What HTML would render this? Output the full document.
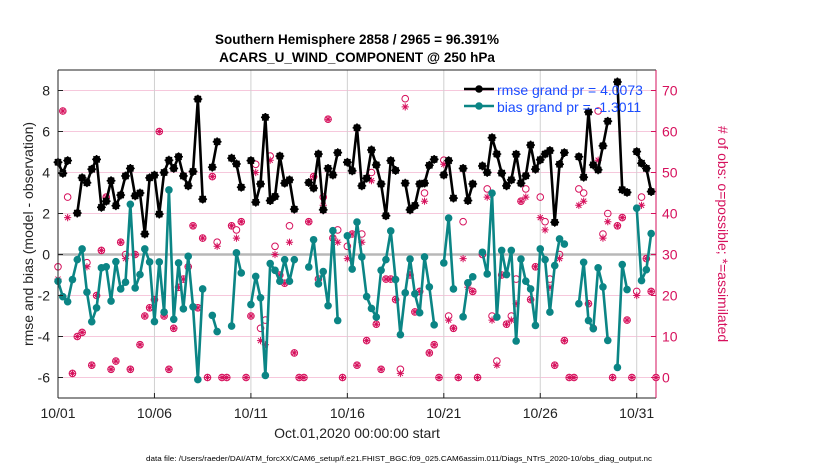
<!DOCTYPE html>
<html><head><meta charset="utf-8"><style>
html,body{margin:0;padding:0;background:#fff;}
svg{display:block;font-family:"Liberation Sans",sans-serif;}
</style></head><body>
<svg id="chart" width="830" height="470" viewBox="0 0 830 470"></svg>
<script>
const dayTicks = [0,5,10,15,20,25,30];
const dayTickLabels = ['10/01','10/06','10/11','10/16','10/21','10/26','10/31'];
const leftTicks = [-6,-4,-2,0,2,4,6,8];
const rightTicks = [0,10,20,30,40,50,60,70];
const rmse = [4.5,3.96,4.58,null,2.02,3.74,3.5,4.16,4.64,2.3,2.6,3.6,2.38,2.9,3.83,4.2,2.86,3.0,1.0,3.74,3.87,1.97,4.0,4.6,4.2,4.77,3.83,3.35,4.05,7.58,2.7,null,4.26,5.5,null,null,4.7,4.42,3.28,null,4.58,2.55,3.44,6.69,2.63,2.83,4.8,3.48,3.64,2.21,null,null,3.51,3.24,4.9,2.18,4.2,3.88,4.97,null,4.5,4.08,6.18,3.35,3.72,5.1,4.37,3.44,1.89,4.58,4.1,null,3.48,2.18,2.39,3.44,3.48,4.35,4.64,null,3.88,4.58,2.75,null,4.2,2.63,3.44,null,4.32,4.0,5.7,4.9,3.97,3.35,3.64,4.89,3.48,3.84,5.34,4.16,4.62,4.9,5.07,1.57,4.4,4.97,null,null,4.77,3.77,6.95,4.37,4.13,5.3,6.5,null,8.42,3.16,3.03,null,5.02,4.45,4.2,3.07,null];
const bias = [-1.3,-2.06,-2.3,-1.22,-0.25,0.27,-1.84,-3.28,-2.6,-0.65,-0.6,-2.27,-0.35,-1.68,-1.35,2.45,-1.63,-0.98,0.27,-0.36,-3.27,-0.36,-2.81,3.15,-3.16,-0.41,-2.65,-0.09,-2.55,-6.1,-1.68,null,-2.97,-3.76,null,null,-3.49,0.08,-0.9,null,-2.44,-1.07,-2.11,-5.9,-0.44,-0.77,-1.3,-0.25,-1.3,-0.25,null,null,-0.61,0.72,-1.43,-0.83,-2.5,1.16,-3.22,null,0.91,-0.71,1.58,-0.12,-2.05,-2.63,-3.05,-0.77,-0.25,1.15,-1.22,-3.91,-1.87,-0.22,-1.92,-2.84,-0.12,-1.58,-3.43,null,-0.41,1.78,-1.68,null,-3.04,-1.38,-1.09,null,0.11,-0.95,2.99,-3.05,0.2,-0.98,0.2,-4.22,-0.22,-1.3,-1.68,-3.46,0.27,-0.25,-2.81,-0.54,0.76,0.51,null,null,-2.4,-0.38,-3.22,-3.62,-0.65,-1.58,-4.19,null,-5.51,-0.49,-1.71,null,2.26,-1.27,-0.74,1.02,null];
const possible = [27,65,44,1,10,11,28,3,20,31,44,2,4,33,30,2,30,8,15,17,19,60,15,2,12,22,24,27,37,17,34,0,49,33,0,0,37,36,38,0,15,52,12,14,54,32,25,23,37,6,0,0,38,49,24,44,63,34,36,0,32,35,3,35,9,50,13,2,24,24,19,2,68,25,16,21,45,6,8,0,53,15,12,0,38,23,21,0,30,46,15,4,25,13,15,24,43,46,19,27,44,38,24,3,30,9,0,0,46,45,18,12,65,35,40,0,37,39,14,0,21,44,29,21,0];
const assimilated = [24,65,39,1,10,11,27,3,20,31,44,2,4,33,29,2,30,8,15,17,19,60,15,2,12,22,24,27,37,17,34,0,49,32,0,0,37,34,38,0,15,50,9,8,53,30,25,23,33,6,0,0,38,49,24,42,63,34,33,0,29,35,3,33,9,48,13,2,24,24,19,1,66,25,16,21,43,6,8,0,52,14,12,0,29,22,21,0,30,44,14,3,25,13,14,18,43,44,19,27,39,36,22,3,29,9,0,0,42,43,18,12,53,34,38,0,37,39,14,0,20,42,29,21,0];

const NS='http://www.w3.org/2000/svg';
const svg=document.getElementById('chart');
const L=58,R=656,T=70,B=398;
const xs=d=>L+(d/31)*(R-L);
const yl=v=>B-(v+7)/16*(B-T);
const yr=n=>B-(n+5)/80*(B-T);
function mk(tag,attrs,parent){const e=document.createElementNS(NS,tag);for(const k in attrs)e.setAttribute(k,attrs[k]);(parent||svg).appendChild(e);return e;}

const grid=mk('g',{});


leftTicks.forEach(v=>{const l=mk('line',{x1:L,x2:R,y1:yl(v),y2:yl(v),stroke:'#f6c8dc','stroke-width':1},grid);

});
dayTicks.forEach(d=>{const l=mk('line',{x1:xs(d),x2:xs(d),y1:T,y2:B,stroke:'#d0d0d0','stroke-width':1},grid);

});
const z=mk('line',{x1:L,x2:R,y1:yl(0),y2:yl(0),stroke:'#b8b8b8','stroke-width':2.5});



const obsG=mk('g',{stroke:'#d6105c',fill:'none','stroke-width':1});


function star(cx,cy,r,g){const p=[];for(let k=0;k<4;k++){const a=k*Math.PI/4;p.push(`M${cx-r*Math.cos(a)},${cy-r*Math.sin(a)}L${cx+r*Math.cos(a)},${cy+r*Math.sin(a)}`);}return mk('path',{d:p.join('')},g);}
possible.forEach((n,i)=>{const c=mk('circle',{cx:xs(i/4),cy:yr(n),r:3.3},obsG);

});
assimilated.forEach((n,i)=>{const s=star(xs(i/4),yr(n),3.6,obsG);

});

function series(arr,color,name,starMark){
  const g=mk('g',{});
  
  
  let d='',pen=false;
  arr.forEach((v,i)=>{if(v===null){pen=false;return;}d+=(pen?'L':'M')+xs(i/4)+','+yl(v);pen=true;});
  mk('path',{d:d,fill:'none',stroke:color,'stroke-width':2.6,'stroke-linejoin':'round'},g);
  arr.forEach((v,i)=>{if(v===null)return;const c=mk('circle',{cx:xs(i/4),cy:yl(v),r:3.8,fill:color},g);
    
    
    if(starMark){const s=star(xs(i/4),yl(v),4.4,g);s.setAttribute('stroke',color);s.setAttribute('stroke-width',1.4);}});
}
series(bias,'#0b8585','bias-series',false);
series(rmse,'#000','rmse-series',true);

const ax=mk('g',{});


mk('line',{x1:L,x2:R,y1:T,y2:T,stroke:'#222'},ax);
mk('line',{x1:L,x2:R,y1:B,y2:B,stroke:'#222'},ax);
mk('line',{x1:L,x2:L,y1:T,y2:B,stroke:'#222'},ax);
mk('line',{x1:R,x2:R,y1:T,y2:B,stroke:'#d6105c'},ax);
leftTicks.forEach(v=>{mk('line',{x1:L,x2:L+5,y1:yl(v),y2:yl(v),stroke:'#222'},ax);
 const t=mk('text',{x:L-8,y:yl(v)+5,'text-anchor':'end','font-size':14,fill:'#222'},ax);t.textContent=v;
 
 });
rightTicks.forEach(n=>{mk('line',{x1:R,x2:R-5,y1:yr(n),y2:yr(n),stroke:'#d6105c'},ax);
 const t=mk('text',{x:R+6,y:yr(n)+5,'font-size':14,fill:'#d6105c'},ax);t.textContent=n;
 
 });
dayTicks.forEach((d,k)=>{mk('line',{x1:xs(d),x2:xs(d),y1:B,y2:B-5,stroke:'#222'},ax);
 const t=mk('text',{x:xs(d),y:418,'text-anchor':'middle','font-size':14,fill:'#222'},ax);t.textContent=dayTickLabels[k];
 
 });
</script>
<svg width="830" height="470" style="position:absolute;left:0;top:0">
<text x="357" y="44" text-anchor="middle" font-size="13.5" font-weight="bold" fill="#000">Southern Hemisphere 2858 / 2965 = 96.391%</text>
<text x="357" y="62" text-anchor="middle" font-size="13.5" font-weight="bold" fill="#000">ACARS_U_WIND_COMPONENT @ 250 hPa</text>
<text transform="translate(33,234) rotate(-90)" text-anchor="middle" font-size="14" fill="#222">rmse and bias (model - observation)</text>
<text transform="translate(718,234) rotate(90)" text-anchor="middle" font-size="14" fill="#d6105c"># of obs: o=possible; *=assimilated</text>
<text x="357" y="438" text-anchor="middle" font-size="14" fill="#222">Oct.01,2020 00:00:00 start</text>
<text x="146" y="461" font-size="7.5" fill="#000" textLength="506" lengthAdjust="spacingAndGlyphs">data file: /Users/raeder/DAI/ATM_forcXX/CAM6_setup/f.e21.FHIST_BGC.f09_025.CAM6assim.011/Diags_NTrS_2020-10/obs_diag_output.nc</text>
<g>
<g>
<line x1="464" y1="89" x2="494" y2="89" stroke="#000" stroke-width="2.6"/><circle cx="479" cy="89" r="3.8" fill="#000"/>
<text x="497" y="95" font-size="14" fill="#1a4cff">rmse grand pr = 4.0073</text></g>
<g>
<line x1="464" y1="106" x2="494" y2="106" stroke="#0b8585" stroke-width="2.6"/><circle cx="479" cy="106" r="3.8" fill="#0b8585"/>
<text x="497" y="112" font-size="14" fill="#1a4cff">bias grand pr = -1.3011</text></g>
</g>
</svg>
</body></html>
